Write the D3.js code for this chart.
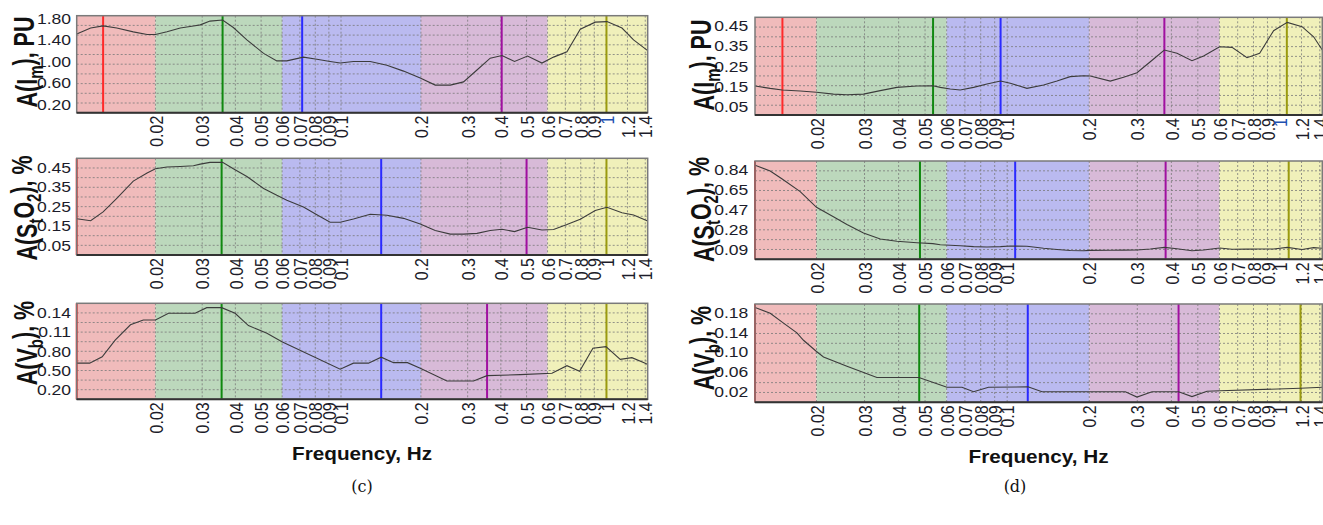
<!DOCTYPE html>
<html>
<head>
<meta charset="utf-8">
<script src="https://cdn.jsdelivr.net/npm/d3@7"></script>
<style>
  body { margin: 0; background: #fff; }
  svg { display: block; }
</style>
</head>
<body>
<svg id="chart" width="1323" height="525"></svg>
<script>
// x axis ticks (log frequency)
const xTicks = [0.02, 0.03, 0.04, 0.05, 0.06, 0.07, 0.08, 0.09, 0.1, 0.2, 0.3, 0.4, 0.5, 0.6, 0.7, 0.8, 0.9, 1, 1.2, 1.4];
const xTickLabels = ['0.02', '0.03', '0.04', '0.05', '0.06', '0.07', '0.08', '0.09', '0.1', '0.2', '0.3', '0.4', '0.5', '0.6', '0.7', '0.8', '0.9', '1', '1.2', '1.4'];

// frequency bands
const bandEdges = [0.02, 0.06, 0.2, 0.6];
const bandColors = ['#f0bbbb', '#bcd8bc', '#babaf0', '#d8bad8', '#f0f0ba'];
const markerColors = ['#ff2a2a', '#108810', '#2a2aff', '#a010a0', '#9a9a10'];

// ---- panel (c)
const freqC = [0.0101, 0.0114, 0.0127, 0.0143, 0.0165, 0.0186, 0.020, 0.0221, 0.0248, 0.0278, 0.0295, 0.0321, 0.0358, 0.0393, 0.0442, 0.0511, 0.0573, 0.0625, 0.0722, 0.0811, 0.0910, 0.0993, 0.1114, 0.1288, 0.1489, 0.172, 0.1988, 0.2264, 0.258, 0.2894, 0.3252, 0.3648, 0.404, 0.4506, 0.5044, 0.5714, 0.632, 0.7098, 0.7966, 0.9074, 1.0044, 1.144, 1.265, 1.43];
const imC = [1.52, 1.63, 1.67, 1.63, 1.56, 1.51, 1.51, 1.56, 1.63, 1.67, 1.69, 1.76, 1.78, 1.64, 1.41, 1.16, 1.02, 1.02, 1.09, 1.05, 1.01, 0.98, 1.01, 1.01, 0.94, 0.83, 0.70, 0.57, 0.57, 0.63, 0.85, 1.07, 1.12, 1.01, 1.11, 0.98, 1.09, 1.19, 1.61, 1.74, 1.75, 1.63, 1.41, 1.21];
const sto2C = [0.19, 0.18, 0.225, 0.295, 0.383, 0.425, 0.446, 0.455, 0.458, 0.462, 0.47, 0.479, 0.48, 0.446, 0.407, 0.345, 0.31, 0.285, 0.25, 0.21, 0.172, 0.172, 0.189, 0.213, 0.208, 0.192, 0.163, 0.13, 0.111, 0.111, 0.115, 0.13, 0.136, 0.124, 0.146, 0.132, 0.135, 0.16, 0.187, 0.232, 0.249, 0.221, 0.209, 0.178];
const freqCvb = [0.0101, 0.0113, 0.0126, 0.0141, 0.0161, 0.018, 0.020, 0.0224, 0.0282, 0.0312, 0.0355, 0.0399, 0.0448, 0.0526, 0.0599, 0.0993, 0.1114, 0.1269, 0.1417, 0.1577, 0.178, 0.1988, 0.2506, 0.3158, 0.3548, 0.4734, 0.6232, 0.7098, 0.792, 0.889, 0.9954, 1.127, 1.247, 1.40, 1.43];
const vbC = [0.062, 0.062, 0.072, 0.098, 0.122, 0.1295, 0.1295, 0.14, 0.14, 0.1488, 0.1488, 0.14, 0.1207, 0.1087, 0.0956, 0.0525, 0.062, 0.062, 0.0713, 0.0628, 0.0628, 0.054, 0.0342, 0.0342, 0.0425, 0.0441, 0.0462, 0.058, 0.0494, 0.0853, 0.0878, 0.068, 0.0706, 0.0619, 0.06];
const peaksImC = [0.0127, 0.0358, 0.0714, 0.403, 1.0];
const peaksSto2C = [0.0101, 0.0355, 0.1417, 0.50, 1.0];
const peaksVbC = [0.0101, 0.0355, 0.1417, 0.355, 1.0];

// ---- panel (d)
const freqD = [0.0119, 0.01353, 0.01497, 0.01743, 0.02, 0.02307, 0.02586, 0.02974, 0.03426, 0.03942, 0.04668, 0.05344, 0.05684, 0.06184, 0.0673, 0.0753, 0.08432, 0.09456, 0.1027, 0.1182, 0.136, 0.1523, 0.1703, 0.1906, 0.2017, 0.2388, 0.2672, 0.2992, 0.3348, 0.3768, 0.4194, 0.476, 0.525, 0.601, 0.6674, 0.7574, 0.8426, 0.948, 1.064, 1.205, 1.329, 1.43];
const imD = [0.155, 0.143, 0.135, 0.130, 0.124, 0.115, 0.112, 0.115, 0.132, 0.148, 0.155, 0.156, 0.148, 0.140, 0.135, 0.148, 0.165, 0.179, 0.168, 0.143, 0.160, 0.179, 0.201, 0.205, 0.204, 0.179, 0.198, 0.220, 0.274, 0.332, 0.316, 0.279, 0.302, 0.348, 0.345, 0.294, 0.316, 0.427, 0.468, 0.447, 0.397, 0.332];
const sto2D = [0.885, 0.83, 0.755, 0.637, 0.49, 0.402, 0.33, 0.25, 0.193, 0.172, 0.158, 0.15, 0.14, 0.135, 0.13, 0.122, 0.118, 0.122, 0.127, 0.125, 0.106, 0.095, 0.085, 0.083, 0.087, 0.088, 0.089, 0.09, 0.10, 0.115, 0.102, 0.083, 0.09, 0.109, 0.097, 0.098, 0.099, 0.10, 0.115, 0.095, 0.112, 0.106];
const freqDvb = [0.0119, 0.01353, 0.01514, 0.01695, 0.01792, 0.02, 0.02122, 0.02586, 0.0333, 0.04748, 0.06016, 0.06828, 0.0753, 0.08544, 0.1192, 0.1342, 0.2712, 0.2992, 0.3396, 0.4252, 0.476, 0.5404, 0.6046, 1.1876, 1.43];
const vbD = [0.192, 0.18, 0.16, 0.14, 0.125, 0.102, 0.091, 0.072, 0.049, 0.049, 0.029, 0.029, 0.02, 0.029, 0.03, 0.02, 0.02, 0.009, 0.02, 0.02, 0.01, 0.021, 0.022, 0.027, 0.029];
const peaksImD = [0.015, 0.0535, 0.0946, 0.377, 1.06];
const peaksSto2D = [0.0119, 0.0479, 0.107, 0.381, 1.077];
const peaksVbD = [0.0119, 0.0476, 0.119, 0.425, 1.19];

// y ticks
const imTicksC = [0.2, 0.6, 1.0, 1.4, 1.8];
const imLabelsC = ['0.20', '0.60', '1.00', '1.40', '1.80'];
const sto2TicksC = [0.05, 0.15, 0.25, 0.35, 0.45];
const sto2LabelsC = ['0.05', '0.15', '0.25', '0.35', '0.45'];
const vbTicksC = [0.02, 0.05, 0.08, 0.11, 0.14];
const vbLabelsC = ['0.20', '0.50', '0.80', '0.11', '0.14'];
const imTicksD = [0.05, 0.15, 0.25, 0.35, 0.45];
const imLabelsD = ['0.05', '0.15', '0.25', '0.35', '0.45'];
const sto2TicksD = [0.09, 0.2775, 0.465, 0.6525, 0.84];
const sto2LabelsD = ['0.09', '0.28', '0.47', '0.65', '0.84'];
const vbTicksD = [0.02, 0.06, 0.10, 0.14, 0.18];
const vbLabelsD = ['0.02', '0.06', '0.10', '0.14', '0.18'];

// axis titles: [text, isSubscript]
const titleIm = [['A(I', false], ['m', true], ['), PU', false]];
const titleSto2 = [['A(S', false], ['t', true], ['O', false], ['2', true], ['), %', false]];
const titleVb = [['A(V', false], ['b', true], ['), %', false]];

const FONT = '"Liberation Sans", Arial, sans-serif';
const TEXT_COL = '#1c1c2a';

const svg = d3.select('#chart');
svg.append('rect').attr('width', 1323).attr('height', 525).attr('fill', '#fff');

const plots = [
  { x0: 76.7, x1: 647.7, y0: 15.7, y1: 112.7, xDomain: [0.0101, 1.43], yDomain: [0.057, 1.86], yTicks: imTicksC, yLabels: imLabelsC, title: titleIm, freq: freqC, vals: imC, peaks: peaksImC, blueOne: true, tx: 37, ty: 62, pad: 4.5 },
  { x0: 76.7, x1: 647.7, y0: 158.3, y1: 255, xDomain: [0.0101, 1.43], yDomain: [0.004, 0.50], yTicks: sto2TicksC, yLabels: sto2LabelsC, title: titleSto2, freq: freqC, vals: sto2C, peaks: peaksSto2C, tx: 37, ty: 208, pad: 4.5 },
  { x0: 76.7, x1: 647.7, y0: 303.3, y1: 399.3, xDomain: [0.0101, 1.43], yDomain: [0.0055, 0.1556], yTicks: vbTicksC, yLabels: vbLabelsC, title: titleVb, freq: freqCvb, vals: vbC, peaks: peaksVbC, tx: 37, ty: 343, pad: 4.5 },
  { x0: 755, x1: 1322.3, y0: 17.3, y1: 115, xDomain: [0.0119, 1.43], yDomain: [0.012, 0.493], yTicks: imTicksD, yLabels: imLabelsD, title: titleIm, freq: freqD, vals: imD, peaks: peaksImD, blueOne: true, tx: 714, ty: 65, pad: 5.3 },
  { x0: 755, x1: 1322.3, y0: 161, y1: 259.3, xDomain: [0.0119, 1.43], yDomain: [0.003, 0.924], yTicks: sto2TicksD, yLabels: sto2LabelsD, title: titleSto2, freq: freqD, vals: sto2D, peaks: peaksSto2D, tx: 714, ty: 209.5, pad: 5.3 },
  { x0: 755, x1: 1322.3, y0: 304, y1: 402.3, xDomain: [0.0119, 1.43], yDomain: [-0.0016, 0.199], yTicks: vbTicksD, yLabels: vbLabelsD, title: titleVb, freq: freqDvb, vals: vbD, peaks: peaksVbD, tx: 714, ty: 348, pad: 5.3 },
];

function drawPlot(p, idx) {
  const x = d3.scaleLog().domain(p.xDomain).range([p.x0, p.x1]);
  const y = d3.scaleLinear().domain(p.yDomain).range([p.y1, p.y0]);
  const g = svg.append('g');

  g.append('clipPath').attr('id', 'clip' + idx)
    .append('rect').attr('x', p.x0).attr('y', p.y0)
    .attr('width', p.x1 - p.x0).attr('height', p.y1 - p.y0);

  // coloured bands
  const edges = [p.xDomain[0], ...bandEdges, p.xDomain[1]];
  g.selectAll('rect.band')
    .data(bandColors)
    .join('rect')
    .attr('class', 'band')
    .attr('x', (d, i) => x(edges[i]))
    .attr('width', (d, i) => x(edges[i + 1]) - x(edges[i]))
    .attr('y', p.y0)
    .attr('height', p.y1 - p.y0)
    .attr('fill', d => d);

  // grid
  const step = (p.yDomain[1] - p.yDomain[0]) / 10;
  const hGrid = d3.range(1, 10).map(i => p.yDomain[0] + i * step);
  g.selectAll('line.hg')
    .data(hGrid)
    .join('line')
    .attr('x1', p.x0).attr('x2', p.x1)
    .attr('y1', d => y(d)).attr('y2', d => y(d))
    .attr('stroke', '#7a7a7a').attr('stroke-width', 0.8)
    .attr('stroke-dasharray', '2,2');
  g.selectAll('line.vg')
    .data(xTicks)
    .join('line')
    .attr('x1', d => x(d)).attr('x2', d => x(d))
    .attr('y1', p.y0).attr('y2', p.y1)
    .attr('stroke', '#7a7a7a').attr('stroke-width', 0.8)
    .attr('stroke-dasharray', '2,2');

  // band peak markers
  g.selectAll('line.peak')
    .data(p.peaks)
    .join('line')
    .attr('x1', d => x(d)).attr('x2', d => x(d))
    .attr('y1', p.y0).attr('y2', p.y1)
    .attr('stroke', (d, i) => markerColors[i])
    .attr('stroke-width', 2);

  // amplitude curve
  const line = d3.line()
    .x((d, i) => x(p.freq[i]))
    .y(d => y(d));
  g.append('path')
    .datum(p.vals)
    .attr('clip-path', `url(#clip${idx})`)
    .attr('d', line)
    .attr('fill', 'none')
    .attr('stroke', '#3c3c3c')
    .attr('stroke-width', 1.1);

  // frame
  g.append('rect')
    .attr('x', p.x0).attr('y', p.y0)
    .attr('width', p.x1 - p.x0).attr('height', p.y1 - p.y0)
    .attr('fill', 'none').attr('stroke', '#7a7a7a').attr('stroke-width', 1.5);
  g.append('line')
    .attr('x1', p.x0).attr('x2', p.x1)
    .attr('y1', p.y1).attr('y2', p.y1)
    .attr('stroke', '#333').attr('stroke-width', 2);

  // x axis labels
  const xAxis = d3.axisBottom(x)
    .tickValues(xTicks)
    .tickFormat((d, i) => xTickLabels[i])
    .tickSize(0);
  const xa = g.append('g')
    .attr('transform', `translate(0, ${p.y1})`)
    .call(xAxis);
  xa.select('.domain').remove();
  xa.selectAll('text')
    .attr('x', 0).attr('y', 0)
    .attr('dy', '0.36em')
    .attr('text-anchor', 'end')
    .attr('transform', 'translate(0, 3) scale(1.15, 1) rotate(-90)')
    .attr('font-family', FONT)
    .attr('font-size', 16)
    .attr('fill', d => (p.blueOne && d === 1 ? '#2050b0' : TEXT_COL));

  // y axis labels
  const yAxis = d3.axisLeft(y)
    .tickValues(p.yTicks)
    .tickFormat((d, i) => p.yLabels[i])
    .tickSize(0)
    .tickPadding(p.pad);
  const ya = g.append('g')
    .attr('transform', `translate(${p.x0}, 0)`)
    .call(yAxis);
  ya.select('.domain').remove();
  ya.selectAll('text')
    .attr('transform', 'scale(1.27, 1)')
    .attr('font-family', FONT)
    .attr('font-size', 13.8)
    .attr('fill', TEXT_COL);

  // y title
  const t = g.append('text')
    .attr('transform', `translate(${p.tx}, ${p.ty}) scale(1.38, 1) rotate(-90)`)
    .attr('text-anchor', 'middle')
    .attr('font-family', FONT)
    .attr('font-weight', 'bold')
    .attr('font-size', 21.5)
    .attr('fill', '#111');
  let shifted = false;
  p.title.forEach(([txt, sub]) => {
    const ts = t.append('tspan').text(txt);
    if (sub) {
      ts.attr('font-size', 15).attr('dy', shifted ? null : '0.3em');
      shifted = true;
    } else if (shifted) {
      ts.attr('dy', '-0.3em');
      shifted = false;
    }
  });
}

plots.forEach(drawPlot);

// x titles and sub-figure captions
[[362, 460], [1038.5, 463]].forEach(([cx, cy]) => {
  svg.append('text')
    .attr('transform', `translate(${cx}, ${cy}) scale(1.12, 1)`)
    .attr('text-anchor', 'middle')
    .attr('font-family', FONT)
    .attr('font-weight', 'bold')
    .attr('font-size', 18.5)
    .attr('fill', '#111')
    .text('Frequency, Hz');
});
[['(c)', 362], ['(d)', 1015]].forEach(([lab, cx]) => {
  svg.append('text')
    .attr('x', cx).attr('y', 492)
    .attr('text-anchor', 'middle')
    .attr('font-family', '"DejaVu Serif", "Liberation Serif", serif')
    .attr('font-size', 16)
    .attr('fill', '#111')
    .text(lab);
});
</script>
</body>
</html>
